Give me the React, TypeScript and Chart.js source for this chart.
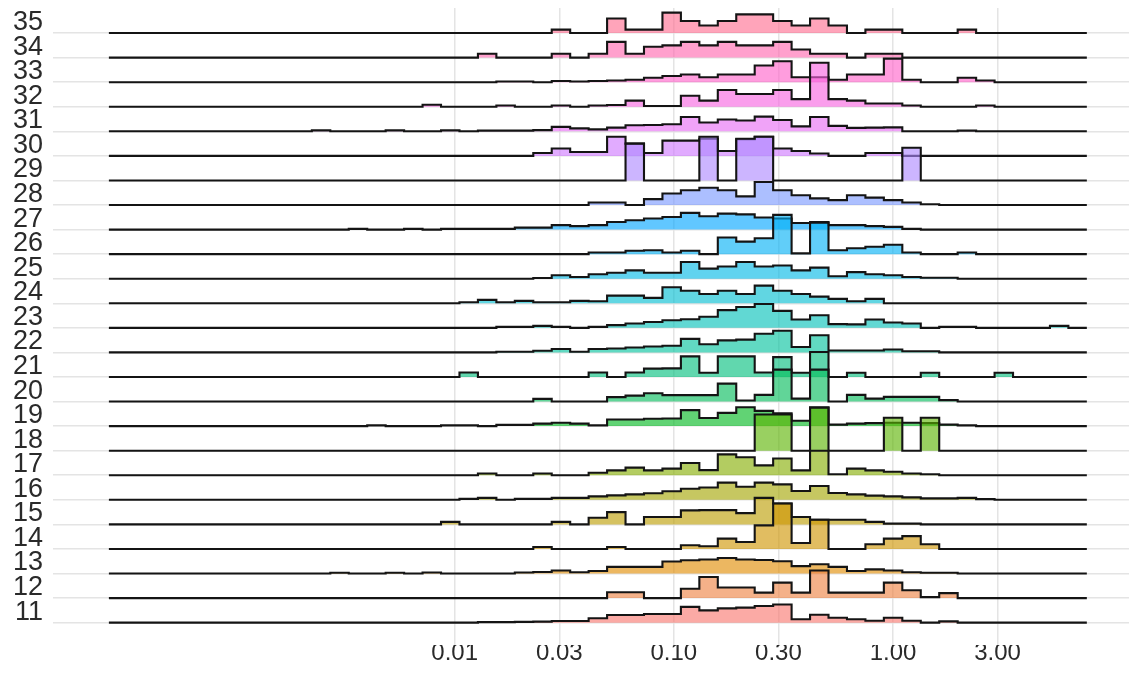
import React, { useEffect, useRef } from 'react';
import { Chart, registerables } from 'chart.js';

Chart.register(...registerables);

// ---- categories / ticks ----
const rowLabels = ['11','12','13','14','15','16','17','18','19','20','21','22','23','24','25','26','27','28','29','30','31','32','33','34','35'];
const xTickValues = [0.01, 0.03, 0.1, 0.3, 1, 3];

// ---- binning (log10 units) ----
const BIN_LOG_START = -3.578;
const BIN_LOG_WIDTH = 0.0842;
const BIN_COUNT = 53;
const FIRST_LISTED_BIN = 10; // arrays below list bins 10..52

// ---- histogram heights (percent of one ridge step), bins 10..52 ----
const r11 = [0,0,0,0, 0,0,0,0, 0,0,2,2, 3,4,7,7, 18,31,31,35, 35,64,50,58, 61,68,74,14, 32,20,14,8, 20,8,0,5, 0,0,0,0, 0,0,0];
const r12 = [0,0,0,0, 0,0,0,0, 0,0,0,0, 0,0,0,0, 0,24,24,0, 0,38,86,43, 43,22,63,22, 112,22,22,22, 63,32,4,20, 0,0,0,0, 0,0,0];
const r13 = [0,0,3,0, 0,3,0,4, 0,0,0,0, 4,6,12,5, 10,27,27,27, 49,54,57,63, 57,55,50,30, 38,27,10,17, 12,5,3,3, 0,0,0,0, 0,0,0];
const r14 = [0,0,0,0, 0,0,0,0, 0,0,0,0, 0,8,0,0, 0,8,0,0, 0,15,11,42, 28,96,185,24, 119,0,0,19, 42,52,19,0, 0,0,0,0, 0,0,0];
const r15 = [0,0,0,0, 0,0,0,0, 10,0,0,0, 0,0,10,0, 27,50,0,30, 30,57,58,58, 46,108,85,30, 19,19,19,10, 3,3,0,0, 0,0,0,0, 0,0,0];
const r16 = [0,0,0,0, 0,0,0,0, 0,4,8,0, 4,4,8,8, 14,18,22,27, 35,45,50,70, 53,70,63,36, 56,28,22,17, 14,10,6,6, 8,3,0,0, 0,0,0];
const r17 = [0,0,0,0, 0,0,0,0, 0,0,7,0, 0,7,0,0, 10,20,31,20, 27,50,21,85, 73,40,68,20, 100,4,27,20, 14,7,4,0, 0,0,0,0, 0,0,0];
const r18 = [0,0,0,0, 0,0,0,0, 0,0,0,0, 0,0,0,0, 0,0,0,0, 0,0,0,0, 0,147,147,0, 175,0,0,0, 134,0,134,0, 0,0,0,0, 0,0,0];
const r19 = [0,0,0,0, 3,0,0,0, 3,3,0,5, 5,10,14,10, 3,27,27,30, 31,65,33,54, 77,62,52,22, 77,6,10,12, 14,14,12,6, 3,0,0,0, 0,0,0];
const r20 = [0,0,0,0, 0,0,0,0, 0,0,0,0, 0,11,0,0, 0,18,24,34, 26,26,26,73, 4,27,130,12, 130,0,27,12, 19,19,19,6, 0,0,0,0, 0,0,0];
const r21 = [0,0,0,0, 0,0,0,0, 0,18,0,0, 0,0,0,0, 18,0,18,34, 35,84,17,84, 84,18,81,17, 102,0,17,0, 0,0,17,0, 0,0,17,0, 0,0,0];
const r22 = [0,0,0,0, 0,0,0,0, 0,0,0,3, 3,7,14,3, 14,16,20,24, 27,55,33,49, 52,76,88,22, 70,8,8,8, 12,5,5,0, 0,0,0,0, 0,0,0];
const r23 = [0,0,0,0, 0,0,0,0, 0,0,0,4, 4,8,4,0, 4,11,18,24, 31,35,45,72, 85,97,69,34, 51,15,14,34, 22,18,0,4, 4,0,0,0, 0,8,0];
const r24 = [0,0,0,0, 0,0,0,0, 0,4,14,4, 10,4,4,10, 8,31,31,22, 65,51,38,51, 38,72,51,38, 27,18,8,18, 0,0,0,0, 0,0,0,0, 0,0,0];
const r25 = [0,0,0,0, 0,0,0,0, 0,0,0,0, 0,3,14,7, 18,24,34,24, 24,68,41,50, 68,50,54,34, 45,10,27,18, 14,7,4,4, 0,0,0,0, 0,0,0];
const r26 = [0,0,0,0, 0,0,0,0, 0,0,0,0, 0,0,0,0, 7,7,14,16, 7,14,0,68, 51,65,160,3, 128,16,24,30, 38,7,0,0, 7,0,0,0, 0,0,0];
const r27 = [0,0,0,3, 0,0,3,0, 3,3,3,3, 8,8,18,14, 18,31,38,45, 51,68,54,65, 62,49,45,27, 31,18,18,14, 11,3,0,0, 0,0,0,0, 0,0,0];
const r28 = [0,0,0,0, 0,0,0,0, 0,0,0,0, 0,0,0,0, 10,10,0,24, 47,60,70,60, 35,94,60,40, 27,20,40,30, 20,10,3,0, 0,0,0,0, 0,0,0];
const r29 = [0,0,0,0, 0,0,0,0, 0,0,0,0, 0,0,0,0, 0,0,150,0, 0,0,178,0, 170,178,0,0, 0,0,0,0, 0,133,0,0, 0,0,0,0, 0,0,0];
const r30 = [0,0,0,0, 0,0,0,0, 0,0,0,0, 0,12,30,16, 16,78,50,12, 62,62,70,20, 68,78,30,20, 10,0,0,12, 12,0,0,0, 0,0,0,0, 0,0,0];
const r31 = [0,4,0,0, 0,4,0,0, 4,0,3,3, 3,5,18,12, 8,15,25,26, 29,58,36,48, 44,60,46,20, 58,22,14,15, 16,0,0,0, 3,0,0,0, 0,0,0];
const r32 = [0,0,0,0, 0,0,0,8, 0,0,0,5, 0,0,5,0, 5,7,25,3, 3,45,25,68, 52,52,68,31, 179,31,25,13, 13,5,0,0, 0,5,0,0, 0,0,0];
const r33 = [0,0,0,0, 0,0,0,0, 0,0,0,3, 3,0,5,3, 5,7,10,18, 25,31,20,31, 31,68,85,20, 20,10,31,31, 96,10,0,0, 18,7,0,0, 0,0,0];
const r34 = [0,0,0,0, 0,0,0,0, 0,0,16,0, 0,0,16,0, 16,64,16,44, 50,64,50,64, 50,50,64,33, 16,16,0,16, 16,0,0,0, 0,0,0,0, 0,0,0];
const r35 = [0,0,0,0, 0,0,0,0, 0,0,0,0, 0,0,14,0, 0,59,14,14, 83,49,31,49, 76,76,49,31, 59,31,0,14, 14,0,0,0, 14,0,0,0, 0,0,0];

const rowHeights = [r11,r12,r13,r14,r15,r16,r17,r18,r19,r20,r21,r22,r23,r24,r25,r26,r27,r28,r29,r30,r31,r32,r33,r34,r35];

// ---- colour helper: ggplot-style hue palette (HCL) ----
function hcl(h: number, c: number, l: number, alpha: number): string {
  const hr = (h * Math.PI) / 180;
  const U = c * Math.cos(hr);
  const V = c * Math.sin(hr);
  const Y = l > 8 ? 100 * Math.pow((l + 16) / 116, 3) : (100 * l) / 903.3;
  const Xn = 95.047, Yn = 100, Zn = 108.883;
  const un = (4 * Xn) / (Xn + 15 * Yn + 3 * Zn);
  const vn = (9 * Yn) / (Xn + 15 * Yn + 3 * Zn);
  const u = U / (13 * l) + un;
  const v = V / (13 * l) + vn;
  const X = (9 * Y * u) / (4 * v);
  const Z = -X / 3 - 5 * Y + (3 * Y) / v;
  const x = X / 100, y = Y / 100, z = Z / 100;
  const lin = [
    3.240479 * x - 1.53715 * y - 0.498535 * z,
    -0.969256 * x + 1.875992 * y + 0.041556 * z,
    0.055648 * x - 0.204043 * y + 1.057311 * z,
  ];
  const rgb = lin.map((t) => {
    const g = t <= 0.0031308 ? 12.92 * t : 1.055 * Math.pow(t, 1 / 2.4) - 0.055;
    return Math.round(Math.max(0, Math.min(1, g)) * 255);
  });
  return `rgba(${rgb[0]},${rgb[1]},${rgb[2]},${alpha})`;
}

const FONT = "'Liberation Sans', Arial, Helvetica, sans-serif";
const W = 1129;
const H = 684;

export default function App() {
  const ref = useRef<HTMLCanvasElement>(null);

  useEffect(() => {
    if (!ref.current) return;
    const n = rowLabels.length;
    const datasets = rowHeights.map((hs, i) => {
      const base = Number(rowLabels[i]);
      const pts: { x: number; y: number }[] = [];
      for (let b = 0; b < BIN_COUNT; b++) {
        const idx = b - FIRST_LISTED_BIN;
        const h = idx >= 0 && idx < hs.length ? hs[idx] : 0;
        const yv = base + h / 100;
        pts.push({ x: Math.pow(10, BIN_LOG_START + b * BIN_LOG_WIDTH), y: yv });
        pts.push({ x: Math.pow(10, BIN_LOG_START + (b + 1) * BIN_LOG_WIDTH), y: yv });
      }
      const hue = 15 + (360 * i) / n;
      return {
        label: rowLabels[i],
        data: pts,
        borderColor: '#141414',
        borderWidth: 2.1,
        backgroundColor: hcl(hue, 100, 65, 0.62),
        fill: { value: base },
        pointRadius: 0,
        tension: 0,
      };
    });

    const chart = new Chart(ref.current, {
      type: 'line',
      data: { datasets: datasets as any },
      options: {
        animation: false,
        responsive: false,
        devicePixelRatio: 1,
        layout: { padding: { top: 8, left: 0, right: 0, bottom: 0 } },
        plugins: { legend: { display: false }, tooltip: { enabled: false } },
        scales: {
          x: {
            type: 'logarithmic',
            min: Math.pow(10, -3.833),
            max: Math.pow(10, 1.077),
            border: { display: false },
            grid: { color: '#e4e4e4', lineWidth: 1.5, drawTicks: false },
            afterBuildTicks: (scale: any) => {
              scale.ticks = xTickValues.map((v) => ({ value: v }));
            },
            afterFit: (scale: any) => {
              scale.height = 39;
              scale.paddingLeft = 0;
              scale.paddingRight = 0;
            },
            ticks: {
              autoSkip: false,
              maxRotation: 0,
              padding: -6,
              color: '#2a2a2a',
              font: { family: FONT, size: 24 },
              callback: (v: any) => Number(v).toFixed(2),
            },
          },
          y: {
            type: 'linear',
            min: 10.09,
            max: 36.02,
            border: { display: false },
            grid: { color: '#e4e4e4', lineWidth: 1.5, drawTicks: false },
            afterBuildTicks: (scale: any) => {
              scale.ticks = rowLabels.map((l) => ({ value: Number(l) }));
            },
            afterFit: (scale: any) => {
              scale.width = 53;
              scale.paddingTop = 0;
              scale.paddingBottom = 0;
            },
            ticks: {
              autoSkip: false,
              padding: 10,
              labelOffset: -10.5,
              color: '#2a2a2a',
              font: { family: FONT, size: 27 },
              callback: (v: any) => String(v),
            },
          },
        },
      },
    });
    return () => chart.destroy();
  }, []);

  return (
    <div style={{ position: 'fixed', left: 0, top: 0, width: W, height: H, background: '#fff' }}>
      <canvas ref={ref} width={W} height={H} style={{ width: W, height: H, display: 'block' }} />
    </div>
  );
}
